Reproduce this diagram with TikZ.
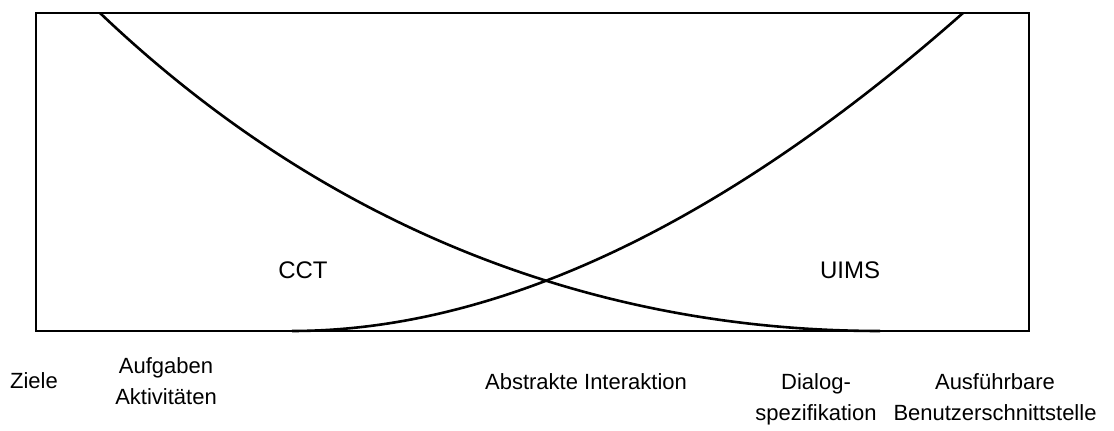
\documentclass[tikz,border=0pt]{standalone}
\usepackage{fontspec}
\setmainfont{Liberation Sans}
\usetikzlibrary{positioning}

\begin{document}
\begin{tikzpicture}[x=0.5pt,y=-0.5pt,line width=1.3pt,
  lbl/.style={font=\fontsize{11}{15.5}\selectfont,align=center,inner sep=0pt,anchor=base},
  tool/.style={font=\fontsize{12}{14}\selectfont,inner sep=0pt}]
  \useasboundingbox (0,0) rectangle (1114,431);
  \coordinate (nw) at (36,13);
  \coordinate (se) at (1029,331);
  \draw (nw) rectangle (se);

  % the two curves
  \coordinate (ccttop) at (100,13);
  \coordinate (cctend) at (880,331);
  \coordinate (uimsstart) at (292,331);
  \coordinate (uimstop) at (963,13);
  \draw (ccttop) .. controls (330,232) and (600,331) .. (cctend);
  \draw (uimsstart) .. controls (497,331) and (723,225) .. (uimstop);

  \node[tool] (cct) at (303,270) {CCT};
  \node[tool] (uims) at (850,270) {UIMS};

  % levels below the box
  \node[lbl] (ziele) at (34,389) {Ziele};
  \node[lbl] (aufgaben) at (166,405) {Aufgaben\\Aktivitäten};
  \node[lbl] (abstrakt) at (586,390) {Abstrakte Interaktion};
  \node[lbl] (dialog) at (816,421) {Dialog-\\spezifikation};
  \node[lbl] (ausf) at (995,421) {Ausführbare\\Benutzerschnittstelle};
\end{tikzpicture}
\end{document}
